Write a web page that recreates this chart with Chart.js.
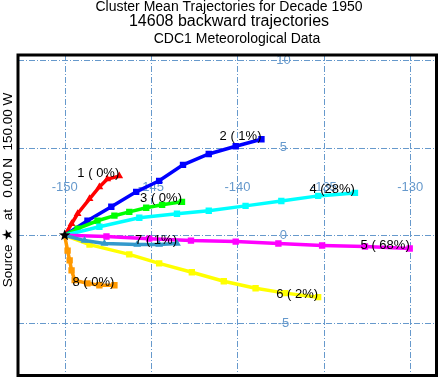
<!DOCTYPE html>
<html><head><meta charset="utf-8">
<script src="https://cdn.jsdelivr.net/npm/chart.js@4/dist/chart.umd.min.js"></script>
<style>html,body{margin:0;padding:0;background:#fff}canvas{display:block}</style>
</head><body>
<canvas id="c" width="441" height="380"></canvas>
<script>
const titleLines = ["Cluster Mean Trajectories for Decade 1950","14608 backward trajectories","CDC1 Meteorological Data"];
const sideText = "Source \u2605  at   0.00 N  150.00 W";
const sourceLon = -150, sourceLat = 0;
const lonTicks = [-150,-145,-140,-135,-130];
const latTicks = [10,5,0,-5];
const lonLabelLat = 2.76;
const latLabelLon = -137.34;

const clusterLabels = ["1 ( 0%)","2 ( 1%)","3 ( 0%)","4 (28%)","5 ( 68%)","6 ( 2%)","7 ( 1%)","8 ( 0%)"];
const clusterColors = ["#ff0000","#0000ff","#00ff00","#00ffff","#ff00ff","#ffff00","#3399cc","#ff9900"];
const clusterMarkers = ["triangle","rect","rect","rect","rect","rect","triangle","rect"];

const c1Lon = [-150,-149.6,-149.25,-148.56,-147.99,-147.53,-146.84];
const c1Lat = [0,0.66,1.23,2.08,2.76,3.21,3.38];
const c2Lon = [-150,-148.68,-147.30,-145.86,-144.53,-143.15,-141.66,-140.10,-138.61];
const c2Lat = [0,0.83,1.63,2.48,3.11,4.02,4.64,5.08,5.48];
const c3Lon = [-150,-149.25,-148.10,-147.12,-146.26,-145.28,-144.36,-143.21];
const c3Lat = [0,0.38,0.83,1.12,1.34,1.57,1.74,1.91];
const c4Lon = [-150,-147.99,-145.68,-143.50,-141.66,-139.53,-137.46,-135.33,-133.20];
const c4Lat = [0,0.49,1.00,1.23,1.40,1.68,1.96,2.25,2.42];
const c5Lon = [-150,-147.58,-145.11,-142.69,-140.10,-137.63,-135.10,-132.62,-130.03];
const c5Lat = [0,-0.07,-0.19,-0.30,-0.36,-0.47,-0.58,-0.64,-0.75];
const c6Lon = [-150,-148.56,-146.26,-144.53,-142.64,-140.79,-138.95,-137.23,-135.33];
const c6Lat = [0,-0.53,-1.09,-1.60,-2.11,-2.62,-3.02,-3.30,-3.53];
const c7Lon = [-150,-148.85,-147.70,-145.80,-144.53,-143.50];
const c7Lat = [0,-0.30,-0.47,-0.53,-0.53,-0.47];
const c8Lon = [-150,-149.83,-149.71,-149.60,-149.42,-148.68,-147.99,-147.12];
const c8Lat = [0,-0.87,-1.43,-2.00,-2.56,-2.74,-2.85,-2.85];

const lons = [c1Lon,c2Lon,c3Lon,c4Lon,c5Lon,c6Lon,c7Lon,c8Lon];
const lats = [c1Lat,c2Lat,c3Lat,c4Lat,c5Lat,c6Lat,c7Lat,c8Lat];

const datasets = lons.map((lo,i)=>({
  label: clusterLabels[i],
  data: lo.map((x,j)=>({x:x,y:lats[i][j]})),
  showLine: true,
  borderColor: clusterColors[i],
  backgroundColor: clusterColors[i],
  borderWidth: 3.5,
  pointStyle: clusterMarkers[i],
  pointRadius: lo.map((x,j)=> j===0 ? 0 : 4.5),
  pointBorderWidth: 0,
  tension: 0
}));
datasets.reverse();

const BLUE = "#6699cc";
const FONT = "'Liberation Sans', Arial, sans-serif";

const decor = {
  id: 'decor',
  beforeDatasetsDraw(chart){
    const ctx = chart.ctx, a = chart.chartArea;
    const xs = chart.scales.x, ys = chart.scales.y;
    ctx.save();
    ctx.strokeStyle = BLUE; ctx.lineWidth = 1;
    ctx.setLineDash([6,2,1,2]);
    lonTicks.forEach(v=>{
      const px = Math.round(xs.getPixelForValue(v))+0.5;
      ctx.beginPath(); ctx.moveTo(px,a.top); ctx.lineTo(px,a.bottom); ctx.stroke();
    });
    latTicks.forEach(v=>{
      const py = Math.round(ys.getPixelForValue(v))+0.5;
      ctx.beginPath(); ctx.moveTo(a.left,py); ctx.lineTo(a.right,py); ctx.stroke();
    });
    ctx.setLineDash([]);
    ctx.fillStyle = BLUE;
    ctx.font = "13px " + FONT;
    ctx.textAlign = "center"; ctx.textBaseline = "middle";
    lonTicks.forEach(v=>{
      ctx.fillText(String(v), xs.getPixelForValue(v), ys.getPixelForValue(lonLabelLat));
    });
    latTicks.forEach(v=>{
      ctx.fillText(String(v), xs.getPixelForValue(latLabelLon), ys.getPixelForValue(v));
    });
    ctx.restore();
  },
  afterDraw(chart){
    const ctx = chart.ctx, a = chart.chartArea;
    const xs = chart.scales.x, ys = chart.scales.y;
    ctx.save();
    ctx.fillStyle = "#000";
    ctx.font = "13px " + FONT;
    ctx.textAlign = "right"; ctx.textBaseline = "middle";
    lons.forEach((lo,i)=>{
      const n = lo.length-1;
      ctx.fillText(clusterLabels[i], xs.getPixelForValue(lo[n]), ys.getPixelForValue(lats[i][n]) - 3);
    });
    const sx = xs.getPixelForValue(sourceLon), sy = ys.getPixelForValue(sourceLat);
    ctx.beginPath();
    for (let k=0;k<10;k++){
      const r = k%2===0 ? 6 : 2.5;
      const ang = -Math.PI/2 + k*Math.PI/5;
      const px = sx + r*Math.cos(ang), py = sy + r*Math.sin(ang);
      if (k===0) ctx.moveTo(px,py); else ctx.lineTo(px,py);
    }
    ctx.closePath(); ctx.fill();
    ctx.strokeStyle = "#000"; ctx.lineWidth = 3;
    ctx.strokeRect(a.left, a.top, a.right-a.left, a.bottom-a.top);
    ctx.textAlign = "center"; ctx.textBaseline = "middle";
    ctx.font = "14px " + FONT;
    ctx.fillText(titleLines[0], 229, 7);
    ctx.font = "16px " + FONT;
    ctx.fillText(titleLines[1], 229, 22);
    ctx.font = "14px " + FONT;
    ctx.fillText(titleLines[2], 237, 39);
    ctx.translate(8, 190);
    ctx.rotate(-Math.PI/2);
    ctx.font = "13.5px " + FONT;
    ctx.fillText(sideText, 0, 0);
    ctx.restore();
  }
};

new Chart(document.getElementById('c'), {
  type: 'scatter',
  data: { datasets },
  options: {
    responsive: false,
    devicePixelRatio: 1,
    animation: false,
    layout: { padding: { left: 18, top: 55, right: 2, bottom: 2 } },
    plugins: { legend: { display: false }, tooltip: { enabled: false }, title: { display: false } },
    scales: {
      x: { type: 'linear', display: false, min: -152.70, max: -128.48 },
      y: { type: 'linear', display: false, min: -8.0, max: 10.29 }
    }
  },
  plugins: [decor]
});
</script>
</body></html>
